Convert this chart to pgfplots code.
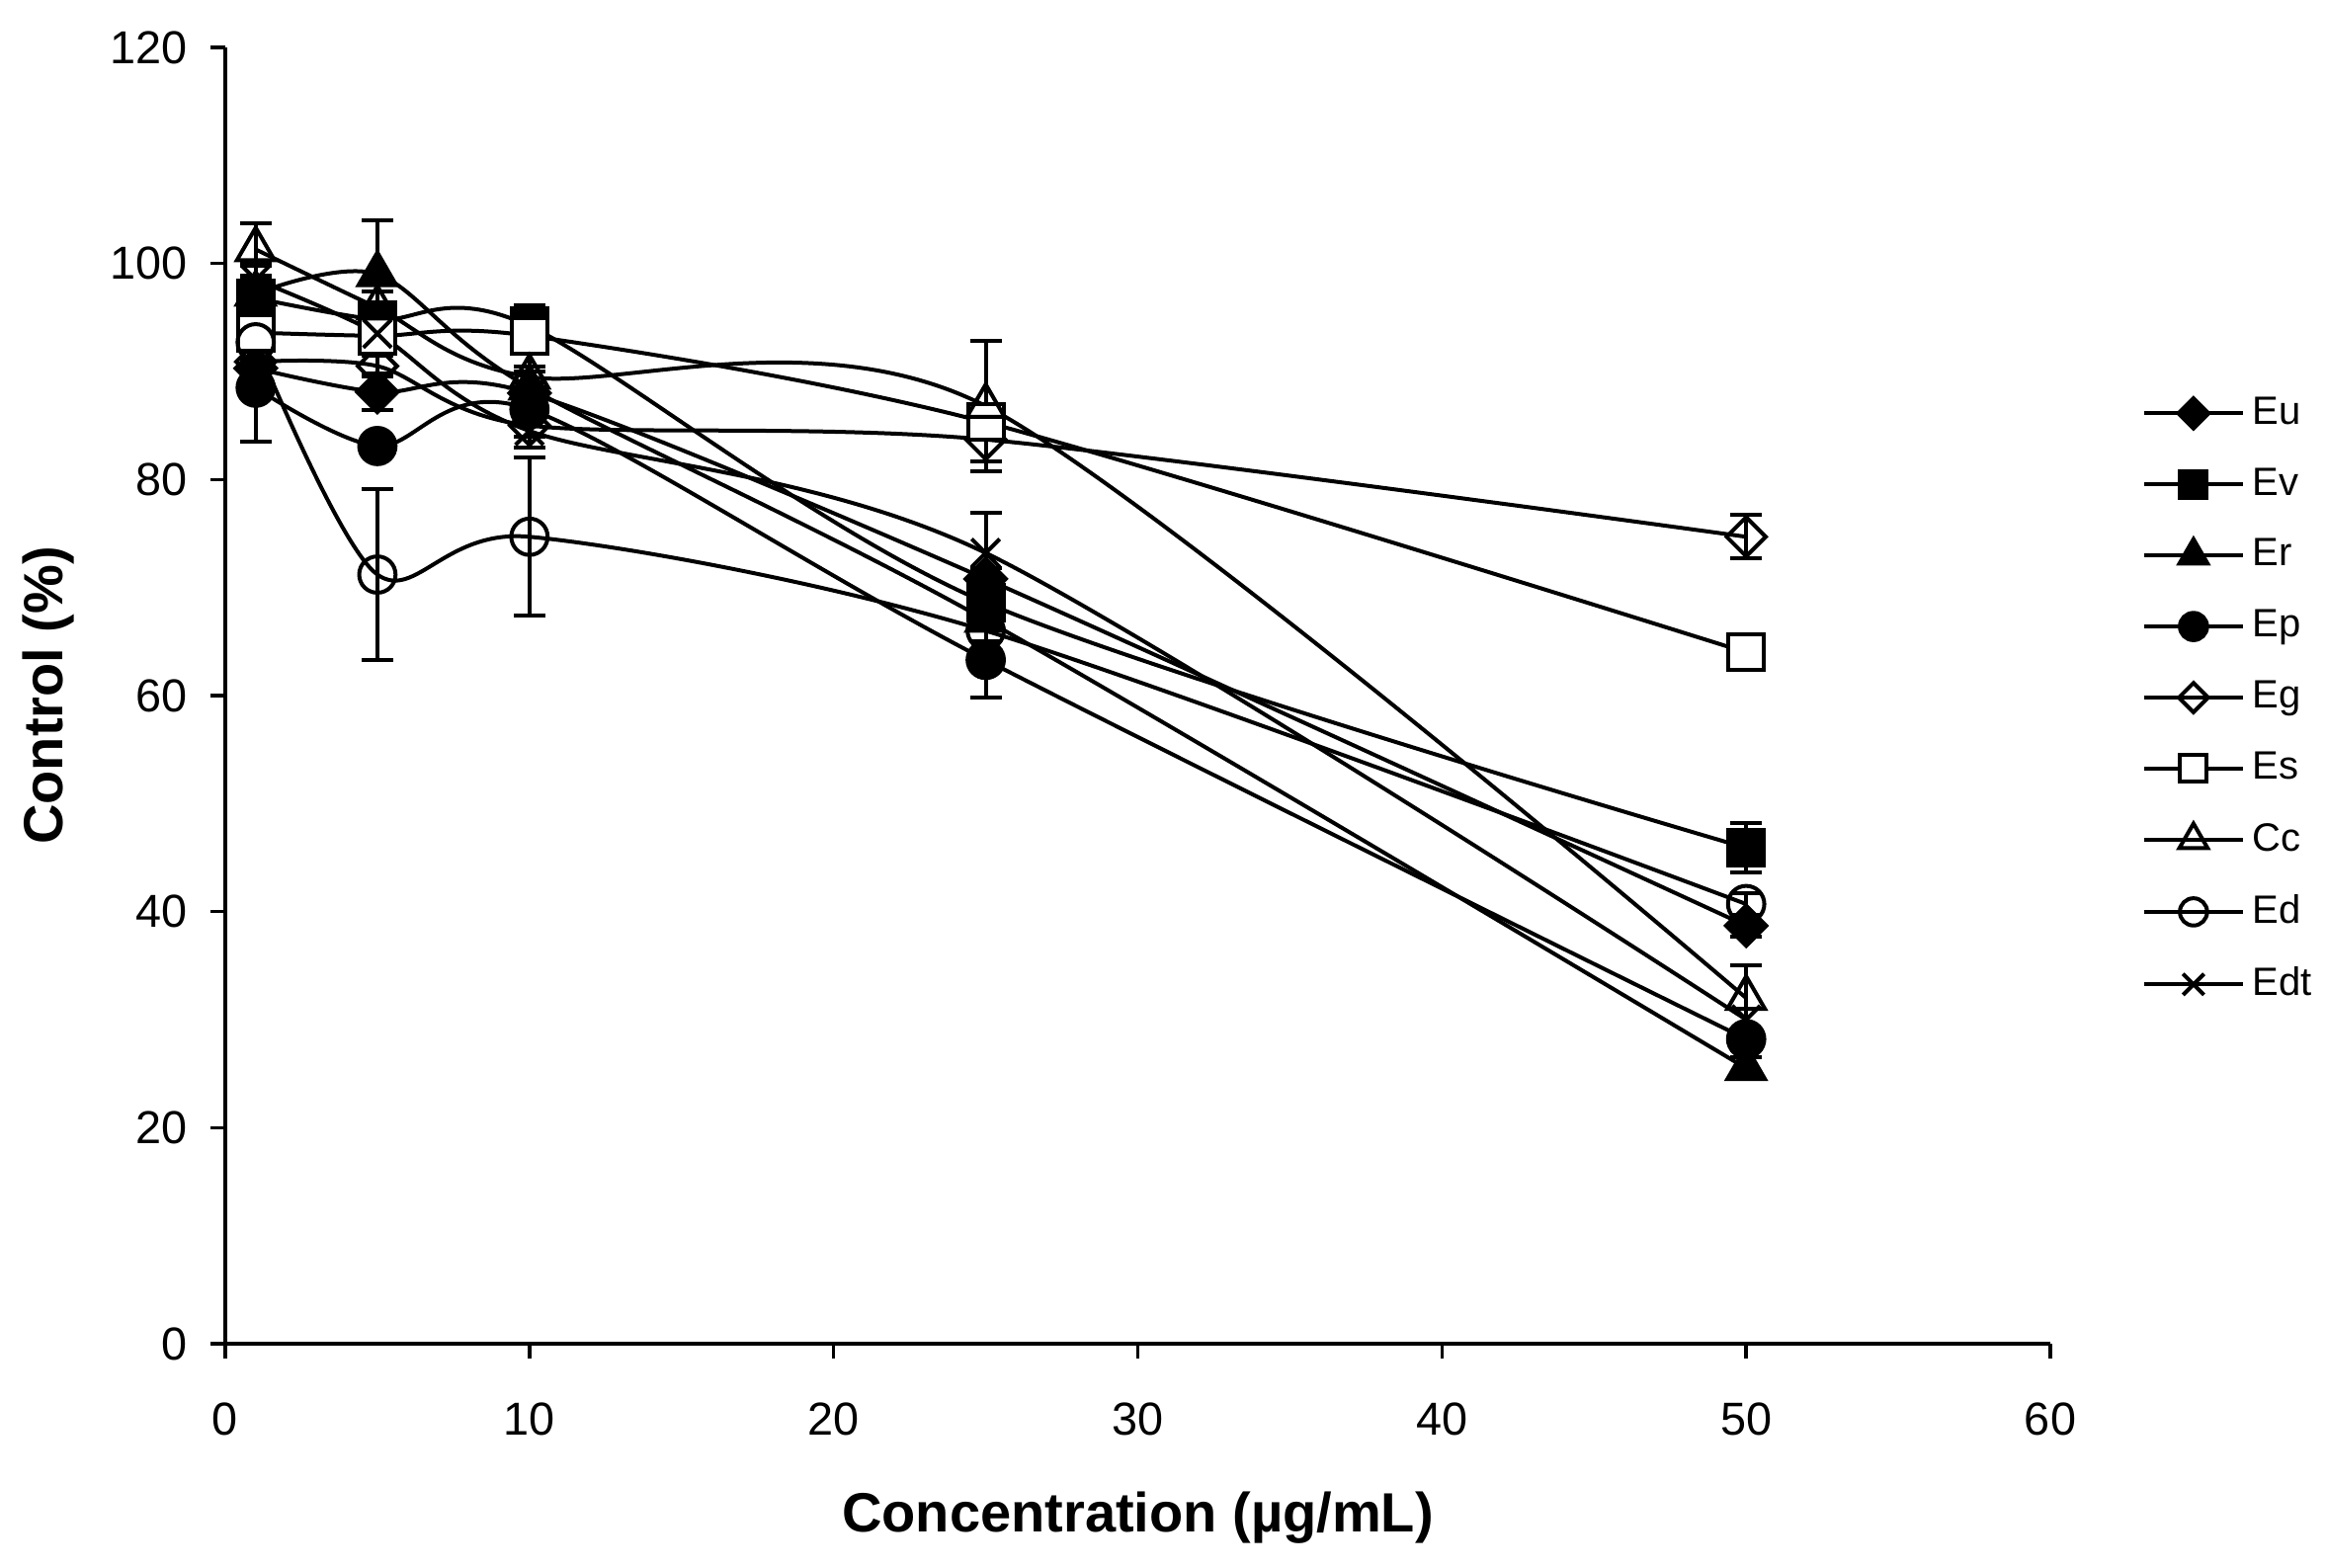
\documentclass[border=0pt]{standalone}
\usepackage{pgfplots}
\usepackage{pgfplotstable}
\usepackage{fontspec}
\setmainfont{Liberation Sans}
\pgfplotsset{compat=1.18}

\pgfplotstableread{
x y e
1 90.3 1.5
5 88.1 1.7
10 88.0 1.0
25 70.8 1.0
50 38.7 1.0
}\Eu
\pgfplotstableread{
x y e
1 96.8 3.0
5 94.8 1.0
10 94.2 1.8
25 68.6 1.0
50 45.9 2.3
}\Ev
\pgfplotstableread{
x y e
1 97.2 1.5
5 99.0 5.0
10 88.5 1.5
25 67.0 1.0
50 25.5 1.0
}\Er
\pgfplotstableread{
x y e
1 88.5 5.0
5 83.1 1.0
10 86.5 1.0
25 63.3 3.5
50 28.2 1.0
}\Ep
\pgfplotstableread{
x y e
1 90.9 1.5
5 90.5 1.0
10 85.0 1.0
25 83.7 2.0
50 74.7 2.0
}\Eg
\pgfplotstableread{
x y e
1 93.6 1.0
5 93.3 1.0
10 93.3 2.8
25 85.3 1.0
50 64.0 1.0
}\Es
\pgfplotstableread{
x y e
1 101.3 2.4
5 95.9 1.5
10 89.5 1.0
25 86.8 6.0
50 32.0 3.0
}\Cc
\pgfplotstableread{
x y e
1 92.7 1.5
5 71.2 7.9
10 74.7 7.3
25 66.0 1.0
50 40.7 1.0
}\Ed
\pgfplotstableread{
x y e
1 98.5 1.5
5 93.5 1.0
10 84.5 1.5
25 73.2 3.7
50 30.0 1.0
}\Edt

\begin{document}
\begin{tikzpicture}
\useasboundingbox (0,0) rectangle (588.5pt,396.5pt);
\begin{axis}[
  at={(57pt,56.5pt)}, anchor=south west,
  scale only axis, width=461.75pt, height=328pt,
  xmin=0, xmax=60, ymin=0, ymax=120,
  xtick={0,10,...,60}, ytick={0,20,...,120},
  axis x line*=bottom, axis y line*=left,
  axis line style={line width=0.85pt},
  every tick/.style={black, line width=0.85pt},
  major tick length=3.75pt,
  tick align=outside,
  minor tick num=0,
  /pgf/number format/assume math mode=true,
  tick label style={font=\fontsize{11.7}{13}\selectfont},
  yticklabel style={inner sep=0pt, anchor=east, xshift=-5.75pt},
  xticklabel style={inner sep=0pt, anchor=north, yshift=-11pt},
  xlabel={Concentration (µg/mL)},
  ylabel={Control (\%)},
  label style={font=\fontsize{14}{16}\selectfont\bfseries},
  xlabel style={at={(axis description cs:0.5,0)}, anchor=center, yshift=-44pt},
  ylabel style={at={(axis description cs:0,0.5)}, anchor=center, yshift=44.75pt},
  legend cell align=left,
  legend style={draw=none, fill=none, inner sep=0pt, outer sep=0pt,
    at={(axis description cs:1.0503,0.7305)}, anchor=north west,
    font=\fontsize{10}{12}\selectfont, row sep=9.6pt, column sep=2pt,
    nodes={inner sep=0pt}},
  legend image code/.code={\draw[mark repeat=2,mark phase=2,/tikz/every mark/.append style={scale=0.75}] plot coordinates {(0pt,0pt) (12.5pt,0pt) (25pt,0pt)};},
  every axis plot/.append style={black, solid, line width=1pt, smooth, tension=0.5},
  error bars/error bar style={line width=1pt, black, solid},
]
\addplot[black, mark=square*, mark size=3.6pt, mark options={rotate=45, fill=black, solid},
  error bars/.cd, y dir=both, y explicit, error mark options={rotate=90, mark size=4pt, line width=1pt}]
  table[x=x, y=y, y error=e]{\Eu};
\addlegendentry{Eu}
\addplot[black, mark=square*, mark size=4.5pt, mark options={fill=black, solid},
  error bars/.cd, y dir=both, y explicit, error mark options={rotate=90, mark size=4pt, line width=1pt}]
  table[x=x, y=y, y error=e]{\Ev};
\addlegendentry{Ev}
\addplot[black, mark=triangle*, mark size=5.5pt, mark options={fill=black, solid},
  error bars/.cd, y dir=both, y explicit, error mark options={rotate=90, mark size=4pt, line width=1pt}]
  table[x=x, y=y, y error=e]{\Er};
\addlegendentry{Er}
\addplot[black, mark=*, mark size=4.6pt, mark options={fill=black, solid},
  error bars/.cd, y dir=both, y explicit, error mark options={rotate=90, mark size=4pt, line width=1pt}]
  table[x=x, y=y, y error=e]{\Ep};
\addlegendentry{Ep}
\addplot[black, mark=square, mark size=3.5pt, mark options={rotate=45, solid},
  error bars/.cd, y dir=both, y explicit, error mark options={rotate=90, mark size=4pt, line width=1pt}]
  table[x=x, y=y, y error=e]{\Eg};
\addlegendentry{Eg}
\addplot[black, mark=square*, mark size=4.5pt, mark options={fill=white, solid},
  error bars/.cd, y dir=both, y explicit, error mark options={rotate=90, mark size=4pt, line width=1pt}]
  table[x=x, y=y, y error=e]{\Es};
\addlegendentry{Es}
\addplot[black, mark=triangle, mark size=5.5pt, mark options={solid},
  error bars/.cd, y dir=both, y explicit, error mark options={rotate=90, mark size=4pt, line width=1pt}]
  table[x=x, y=y, y error=e]{\Cc};
\addlegendentry{Cc}
\addplot[black, mark=o, mark size=4.6pt, mark options={solid},
  error bars/.cd, y dir=both, y explicit, error mark options={rotate=90, mark size=4pt, line width=1pt}]
  table[x=x, y=y, y error=e]{\Ed};
\addlegendentry{Ed}
\addplot[black, mark=x, mark size=5pt, mark options={solid},
  error bars/.cd, y dir=both, y explicit, error mark options={rotate=90, mark size=4pt, line width=1pt}]
  table[x=x, y=y, y error=e]{\Edt};
\addlegendentry{Edt}
\end{axis}
\end{tikzpicture}
\end{document}
